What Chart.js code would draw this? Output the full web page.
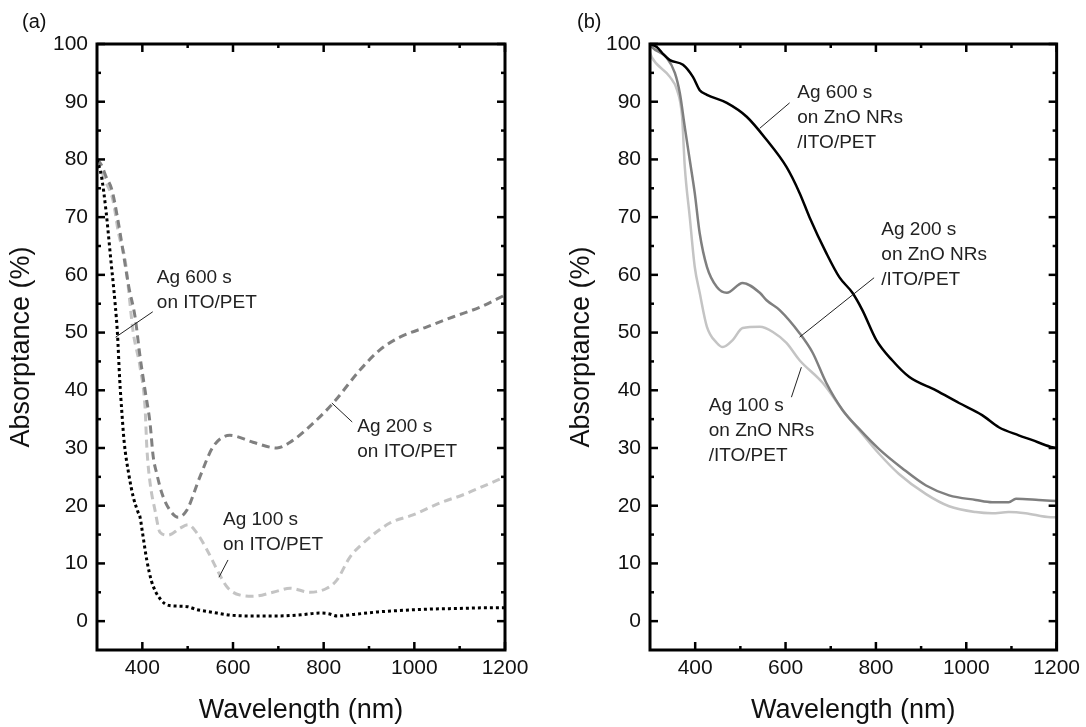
<!DOCTYPE html>
<html>
<head>
<meta charset="utf-8">
<script src="https://cdn.jsdelivr.net/npm/chart.js@4.4.1/dist/chart.umd.min.js"></script>
<style>
html, body { margin: 0; padding: 0; background: #fff; }
#wrap { position: relative; width: 1086px; height: 727px; overflow: hidden; }
#chartA { position: absolute; left: 0; top: 0; }
#chartB { position: absolute; left: 553px; top: 0; }
</style>
</head>
<body>
<div id="wrap">
  <canvas id="chartA" width="553" height="727"></canvas>
  <canvas id="chartB" width="533" height="727"></canvas>
</div>
<script>
// axis ticks
const xTicks = [400, 600, 800, 1000, 1200];
const xMinor = [500, 700, 900, 1100];
const yTicks = [0, 10, 20, 30, 40, 50, 60, 70, 80, 90, 100];
const yMinor = [5, 15, 25, 35, 45, 55, 65, 75, 85, 95];

// (a) Ag on ITO/PET
const waveA600 = [300, 310, 320, 330, 340, 345, 350, 355, 360, 370, 380, 390, 395, 400, 410, 420, 430, 440, 450, 460, 480, 500, 520, 550, 600, 650, 700, 750, 790, 810, 830, 870, 920, 980, 1040, 1100, 1150, 1200];
const absA600 = [80, 77, 71, 63, 55, 50, 42, 36, 31, 25.5, 21.5, 19, 18, 15.5, 10.5, 7, 5, 3.8, 3, 2.7, 2.6, 2.5, 2.0, 1.6, 1.0, 0.9, 0.9, 1.1, 1.4, 1.3, 0.9, 1.2, 1.6, 1.9, 2.1, 2.2, 2.3, 2.3];

const waveA200 = [300, 310, 320, 333, 345, 357, 370, 384, 395, 406, 417, 424, 432, 443, 461, 479, 498, 527, 556, 593, 644, 697, 726, 777, 821, 880, 924, 968, 1028, 1085, 1145, 1200];
const absA200 = [80, 79, 77, 74.7, 70, 64.3, 58, 52.7, 45.8, 40, 34.3, 28.5, 25.5, 22.2, 19.2, 18, 19.2, 25, 30.2, 32.2, 31, 30, 31, 34.3, 37.8, 43.5, 47, 49.2, 51, 52.7, 54.4, 56.5];

const waveA100 = [300, 310, 320, 335, 348, 362, 380, 395, 406, 410, 417, 428, 439, 457, 483, 501, 520, 543, 565, 587, 616, 644, 688, 726, 770, 807, 829, 858, 887, 946, 997, 1057, 1108, 1150, 1200];
const absA100 = [80, 78, 76, 73, 67, 62.6, 50, 44, 37, 30, 24, 19.2, 15.4, 14.9, 16.1, 16.7, 15.3, 12.3, 8.9, 5.9, 4.5, 4.3, 5, 5.7, 5, 5.7, 7.1, 11.1, 13.5, 17, 18.4, 20.5, 21.9, 23.3, 25];

// (b) Ag on ZnO NRs/ITO/PET
const waveB600 = [300, 315, 330, 344, 373, 395, 410, 426, 470, 514, 558, 602, 631, 653, 690, 719, 748, 770, 801, 836, 874, 933, 984, 1035, 1072, 1116, 1145, 1187, 1200];
const absB600 = [100, 99.5, 98.2, 97.2, 96.4, 94.3, 92, 91.2, 89.8, 87.4, 83.4, 78.7, 74.2, 70, 63.8, 59.6, 56.9, 53.9, 48.7, 45.2, 42.3, 40, 37.8, 35.7, 33.6, 32.2, 31.4, 30.2, 30];

const waveB200 = [300, 304, 337, 355, 366, 377, 388, 399, 410, 426, 448, 470, 505, 543, 558, 587, 631, 660, 690, 726, 763, 807, 858, 911, 962, 1021, 1057, 1094, 1110, 1160, 1200];
const absB200 = [100, 99.5, 97.6, 95, 91.5, 85.6, 79.9, 74.2, 67.2, 61.4, 57.9, 56.9, 58.6, 56.9, 55.6, 53.9, 49.9, 46.5, 41.3, 36.6, 33.3, 29.8, 26.5, 23.5, 21.8, 21, 20.6, 20.6, 21.2, 21, 20.8];

const waveB100 = [300, 304, 344, 360, 371, 377, 388, 399, 410, 426, 448, 461, 483, 505, 543, 572, 602, 631, 682, 726, 763, 807, 851, 911, 962, 1021, 1057, 1094, 1131, 1187, 1200];
const absB100 = [98.5, 97.7, 94.3, 92, 87.4, 78.7, 70, 61.4, 56.9, 51, 48.2, 47.5, 48.7, 50.8, 51, 50.1, 48.2, 45.2, 41.3, 36.6, 33.1, 29, 25.5, 22, 19.9, 18.9, 18.7, 18.9, 18.7, 18, 18];

const pts = (xs, ys) => xs.map((x, i) => ({x: x, y: ys[i]}));

// curve labels: text lines, anchor of first line, leader line (data units)
const notesA = [
    {lines: ['Ag 600 s', 'on ITO/PET'], at: [432, 59.5], from: [423, 53.6], to: [341, 49.2]},
    {lines: ['Ag 200 s', 'on ITO/PET'], at: [874, 33.6], from: [863, 34.5], to: [818, 37.8]},
    {lines: ['Ag 100 s', 'on ITO/PET'], at: [578, 17.5], from: [589, 10.6], to: [569, 7.6]},
];
const notesB = [
    {lines: ['Ag 600 s', 'on ZnO NRs', '/ITO/PET'], at: [626, 91.5], from: [609, 89.8], to: [543, 85.4]},
    {lines: ['Ag 200 s', 'on ZnO NRs', '/ITO/PET'], at: [812, 67.8], from: [796, 59.5], to: [631, 49.2]},
    {lines: ['Ag 100 s', 'on ZnO NRs', '/ITO/PET'], at: [430, 37.3], from: [613, 38.8], to: [635, 44]},
];

const FONT = '"Liberation Sans", Arial, sans-serif';

const frameTicks = {
    id: 'frameTicks',
    afterDraw(chart) {
        const ctx = chart.ctx;
        const a = chart.chartArea;
        const x = chart.scales.x, y = chart.scales.y;
        const line = (x1, y1, x2, y2) => { ctx.beginPath(); ctx.moveTo(x1, y1); ctx.lineTo(x2, y2); ctx.stroke(); };
        ctx.save();
        ctx.strokeStyle = '#000';
        ctx.lineWidth = 2.5;
        xTicks.concat(xMinor).forEach(v => {
            const px = x.getPixelForValue(v);
            const len = xTicks.includes(v) ? 8 : 4;
            line(px, a.bottom, px, a.bottom - len);
            line(px, a.top, px, a.top + len);
        });
        yTicks.concat(yMinor).forEach(v => {
            const py = y.getPixelForValue(v);
            const len = yTicks.includes(v) ? 8 : 4;
            line(a.left, py, a.left + len, py);
            line(a.right, py, a.right - len, py);
        });
        ctx.lineWidth = 3;
        ctx.strokeRect(a.left, a.top, a.right - a.left, a.bottom - a.top);

        // panel tag
        const o = chart.options.plugins.frameTicks;
        ctx.fillStyle = '#111';
        ctx.font = '20px ' + FONT;
        ctx.textAlign = 'left';
        ctx.textBaseline = 'middle';
        ctx.fillText(o.tag, o.tagX, 22);

        // curve labels with leader lines
        ctx.fillStyle = '#222';
        ctx.strokeStyle = '#222';
        ctx.lineWidth = 1;
        ctx.font = '19px ' + FONT;
        o.notes.forEach(n => {
            const tx = x.getPixelForValue(n.at[0]);
            const ty = y.getPixelForValue(n.at[1]);
            n.lines.forEach((s, i) => ctx.fillText(s, tx, ty + i * 25));
            line(x.getPixelForValue(n.from[0]), y.getPixelForValue(n.from[1]),
                 x.getPixelForValue(n.to[0]), y.getPixelForValue(n.to[1]));
        });
        ctx.restore();
    }
};

function makeChart(id, datasets, padRight, titlePad, tag, notes) {
    return new Chart(document.getElementById(id), {
        type: 'line',
        data: {datasets: datasets},
        options: {
            responsive: false,
            animation: false,
            events: [],
            layout: {padding: {top: 44, right: padRight, left: 0, bottom: 0}},
            elements: {point: {radius: 0}, line: {cubicInterpolationMode: 'monotone', borderCapStyle: 'butt'}},
            plugins: {
                legend: {display: false},
                tooltip: {enabled: false},
                frameTicks: {tag: tag.text, tagX: tag.x, notes: notes}
            },
            scales: {
                x: {
                    type: 'linear', min: 300, max: 1200,
                    afterBuildTicks: s => { s.ticks = xTicks.map(v => ({value: v})); },
                    afterFit: s => { s.height = 77; },
                    grid: {display: false, drawTicks: false},
                    border: {display: false},
                    ticks: {padding: 6, color: '#111', font: {family: FONT, size: 21}, maxRotation: 0,
                        callback: v => String(v)},
                    title: {display: true, text: 'Wavelength (nm)', color: '#111', padding: {top: 0, bottom: 0}, font: {family: FONT, size: 27}}
                },
                y: {
                    type: 'linear', min: -5, max: 100,
                    afterBuildTicks: s => { s.ticks = yTicks.map(v => ({value: v})); },
                    afterFit: s => { s.width = 97; },
                    grid: {display: false, drawTicks: false},
                    border: {display: false},
                    ticks: {padding: 9, color: '#111', font: {family: FONT, size: 21},
                        callback: v => String(v)},
                    title: {display: true, text: 'Absorptance (%)', color: '#111', padding: {top: titlePad, bottom: 0}, font: {family: FONT, size: 27}}
                }
            }
        },
        plugins: [frameTicks]
    });
}

makeChart('chartA', [
    {label: 'Ag 600 s', data: pts(waveA600, absA600), borderColor: '#000', borderWidth: 3, borderDash: [3, 3]},
    {label: 'Ag 200 s', data: pts(waveA200, absA200), borderColor: '#808080', borderWidth: 3, borderDash: [8, 5]},
    {label: 'Ag 100 s', data: pts(waveA100, absA100), borderColor: '#c4c4c4', borderWidth: 3, borderDash: [8, 5]},
], 48, 5, {text: '(a)', x: 22}, notesA);

makeChart('chartB', [
    {label: 'Ag 600 s', data: pts(waveB600, absB600), borderColor: '#000', borderWidth: 2.5},
    {label: 'Ag 200 s', data: pts(waveB200, absB200), borderColor: '#7f7f7f', borderWidth: 2.5},
    {label: 'Ag 100 s', data: pts(waveB100, absB100), borderColor: '#c4c4c4', borderWidth: 2.5},
], 28, 12, {text: '(b)', x: 24}, notesB);
</script>
</body>
</html>
